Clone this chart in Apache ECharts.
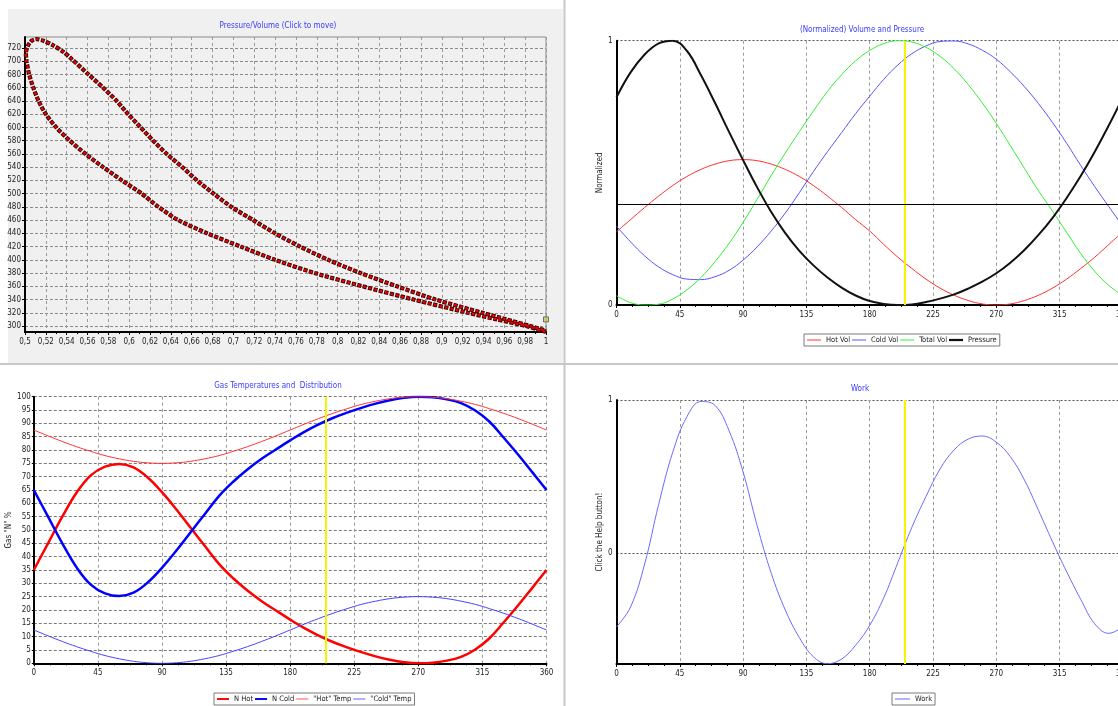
<!DOCTYPE html>
<html>
<head>
<meta charset="utf-8">
<script src="https://cdn.jsdelivr.net/npm/echarts@6/dist/echarts.min.js"></script>
<style>
  html, body { margin: 0; padding: 0; background: #ffffff; }
  #chart { width: 1118px; height: 706px; }
</style>
</head>
<body>
<div id="chart"></div>
<script>
// ---- Pressure / volume loop (volume ratio, pressure) ----
const pvVolume = [1.0, 0.981, 0.953, 0.925, 0.873, 0.824, 0.778, 0.740, 0.707, 0.675, 0.647, 0.628, 0.612,
  0.593, 0.575, 0.558, 0.543, 0.530, 0.520, 0.513, 0.508, 0.504, 0.5015, 0.5008, 0.503, 0.5064, 0.511,
  0.5176, 0.527, 0.537, 0.545, 0.561, 0.575, 0.588, 0.599, 0.611, 0.623, 0.636, 0.651, 0.665, 0.681,
  0.698, 0.719, 0.740, 0.764, 0.791, 0.822, 0.857, 0.894, 0.939, 0.962, 0.985, 1.0];
const pvPressure = [291, 300, 310, 320, 340, 360, 380, 400, 420, 440, 460, 480, 500,
  520, 540, 560, 580, 600, 620, 640, 660, 680, 700, 712, 724, 731, 733.5,
  731, 724, 714, 703, 680, 660, 640, 620, 600, 580, 560, 540, 520, 500,
  480, 460, 440, 420, 400, 380, 360, 340, 320, 310, 300, 293];
const pvMarker = [1.0, 310];
const pvPressureTicks = [300, 320, 340, 360, 380, 400, 420, 440, 460, 480, 500, 520, 540, 560, 580,
  600, 620, 640, 660, 680, 700, 720];

// ---- Crank angle samples (degrees) shared by the other three charts ----
const crankAngles = [0, 10, 20, 30, 40, 50, 60, 70, 80, 90, 100, 110, 120, 130, 140, 150, 160, 170, 180,
  190, 200, 210, 220, 230, 240, 250, 260, 270, 280, 290, 300, 310, 320, 330, 340, 350, 360];
const currentAngle = 205;

// (Normalized) Volume and Pressure
const hotVol = [0.277, 0.323, 0.369, 0.412, 0.452, 0.486, 0.513, 0.533, 0.546, 0.55, 0.546, 0.533, 0.513,
  0.486, 0.452, 0.412, 0.369, 0.323, 0.280, 0.229, 0.181, 0.138, 0.098, 0.064, 0.037, 0.017, 0.004,
  0.0, 0.004, 0.017, 0.037, 0.064, 0.098, 0.138, 0.181, 0.229, 0.277];
const coldVol = [0.298, 0.239, 0.186, 0.144, 0.115, 0.098, 0.096, 0.107, 0.131, 0.170, 0.220, 0.280, 0.348,
  0.425, 0.505, 0.580, 0.652, 0.724, 0.790, 0.854, 0.908, 0.951, 0.980, 0.997, 0.999, 0.988, 0.964,
  0.930, 0.882, 0.826, 0.762, 0.690, 0.612, 0.528, 0.448, 0.372, 0.298];
const totalVol = [0.035, 0.009, 0.0, 0.003, 0.023, 0.057, 0.104, 0.164, 0.233, 0.313, 0.40, 0.49, 0.575,
  0.656, 0.734, 0.808, 0.871, 0.924, 0.963, 0.989, 1.0, 0.995, 0.975, 0.941, 0.894, 0.834, 0.765,
  0.687, 0.603, 0.517, 0.432, 0.355, 0.275, 0.195, 0.127, 0.074, 0.035];
const pressure = [0.786, 0.88, 0.948, 0.99, 1.0, 0.962, 0.87, 0.765, 0.655, 0.548, 0.445, 0.352, 0.272,
  0.205, 0.15, 0.104, 0.066, 0.036, 0.015, 0.004, 0.0, 0.002, 0.011, 0.024, 0.04, 0.062, 0.088,
  0.12, 0.16, 0.208, 0.265, 0.33, 0.405, 0.488, 0.58, 0.68, 0.786];
const meanPressure = 0.378;

// Gas Temperatures and Distribution (%)
const nHot = [35, 45, 55, 64, 70.5, 73.8, 74.8, 73.5, 69.7, 64.2, 57.8, 50.9, 44.1, 37.3, 31.9, 27.3,
  23.3, 19.8, 16.4, 13.2, 10.4, 8, 6, 4.2, 2.6, 1.3, 0.4, 0, 0.2, 1, 2.4, 5.2, 9.4, 15.4, 21.7, 28.3, 35];
const nCold = [65, 55, 45, 36, 29.5, 26.2, 25.2, 26.5, 30.3, 35.8, 42.2, 49.1, 55.9, 62.7, 68.1, 72.7,
  76.7, 80.2, 83.6, 86.8, 89.6, 92, 94, 95.8, 97.4, 98.7, 99.6, 100, 99.8, 99, 97.6, 94.8, 90.6, 84.6,
  78.3, 71.7, 65];
const hotTemp = [87.5, 85.3, 83.2, 81.25, 79.5, 77.9, 76.7, 75.75, 75.2, 75, 75.2, 75.75, 76.7, 77.9,
  79.5, 81.25, 83.2, 85.3, 87.5, 89.7, 91.8, 93.75, 95.5, 97.1, 98.3, 99.25, 99.8, 100, 99.8, 99.25,
  98.3, 97.1, 95.5, 93.75, 91.8, 89.7, 87.5];
const coldTemp = [12.5, 10.3, 8.2, 6.25, 4.5, 2.9, 1.7, 0.75, 0.2, 0, 0.2, 0.75, 1.7, 2.9, 4.5, 6.25,
  8.2, 10.3, 12.5, 14.7, 16.8, 18.75, 20.5, 22.1, 23.3, 24.25, 24.8, 25, 24.8, 24.25, 23.3, 22.1,
  20.5, 18.75, 16.8, 14.7, 12.5];

// Work (normalized to its peak)
const work = [-0.48, -0.35, -0.07, 0.32, 0.66, 0.89, 0.99, 0.965, 0.8, 0.53, 0.18, -0.13, -0.37,
  -0.55, -0.675, -0.72, -0.69, -0.6, -0.47, -0.29, -0.06, 0.17, 0.37, 0.55, 0.674, 0.745, 0.765,
  0.725, 0.63, 0.478, 0.28, 0.075, -0.12, -0.3, -0.46, -0.522, -0.478];
const workMin = -0.722;

const FONT = "'Liberation Sans Narrow','DejaVu Sans Condensed','Liberation Sans',sans-serif";
const TITLE_BLUE = '#3b3bff';
const THIN_ICON = 'path://M0 0H20V1.4H0Z';
const THICK_ICON = 'path://M0 0H20V3.2H0Z';

const pairs = (xs, ys) => xs.map((x, i) => [x, ys[i]]);

function angleAxis(gridIndex) {
  return {
    type: 'value', gridIndex, min: 0, max: 360, interval: 45,
    axisLine: { show: true, onZero: false, lineStyle: { color: '#000', width: 2 } },
    axisTick: { show: true, length: 3, lineStyle: { color: '#000' } },
    minorTick: { show: true, splitNumber: 4, length: 2, lineStyle: { color: '#000' } },
    axisLabel: { fontSize: 8, color: '#222', margin: 6, fontFamily: FONT },
    splitLine: { show: true, lineStyle: { color: '#9a9a9a', type: [3, 3], width: 1 } }
  };
}

function cursorLine() {
  return {
    silent: true, symbol: 'none', animation: false,
    label: { show: false },
    lineStyle: { color: '#f5f500', width: 2, type: 'solid' },
    data: [{ xAxis: currentAngle }]
  };
}

function legendBox(names, left, top, textWidth, itemWidth) {
  return {
    data: names, left, top, orient: 'horizontal',
    selectedMode: false, borderColor: '#7a7a7a', borderWidth: 1, padding: [2, 3], itemGap: 2,
    itemWidth, itemHeight: 8,
    textStyle: { fontSize: 7.5, color: '#222', fontFamily: FONT, width: textWidth, overflow: 'none' }
  };
}

const lineSeries = (name, axisIdx, values, color, width, extra) => Object.assign({
  name, type: 'line', xAxisIndex: axisIdx, yAxisIndex: axisIdx, smooth: 0.4, symbol: 'none',
  data: pairs(crankAngles, values), color, lineStyle: { color, width }
}, extra || {});

const chart = echarts.init(document.getElementById('chart'), null, { renderer: 'canvas' });

chart.setOption({
  animation: false,
  textStyle: { fontFamily: FONT },
  graphic: [
    { type: 'rect', z: -10, silent: true, shape: { x: 8, y: 9, width: 555, height: 354 }, style: { fill: '#f0f0f0' } },
    { type: 'line', silent: true, shape: { x1: 564.5, y1: 0, x2: 564.5, y2: 706 }, style: { stroke: '#c8c8c8', lineWidth: 2 } },
    { type: 'line', silent: true, shape: { x1: 0, y1: 364, x2: 1118, y2: 364 }, style: { stroke: '#c8c8c8', lineWidth: 2 } },
    { type: 'text', silent: true, x: 278, y: 26, style: { text: 'Pressure/Volume (Click to move)', fill: TITLE_BLUE, font: '8px ' + FONT, align: 'center', verticalAlign: 'middle' } },
    { type: 'text', silent: true, x: 862, y: 30, style: { text: '(Normalized) Volume and Pressure', fill: TITLE_BLUE, font: '8px ' + FONT, align: 'center', verticalAlign: 'middle' } },
    { type: 'text', silent: true, x: 278, y: 386, style: { text: 'Gas Temperatures and  Distribution', fill: TITLE_BLUE, font: '8px ' + FONT, align: 'center', verticalAlign: 'middle' } },
    { type: 'text', silent: true, x: 860, y: 389, style: { text: 'Work', fill: TITLE_BLUE, font: '8px ' + FONT, align: 'center', verticalAlign: 'middle' } }
  ],
  grid: [
    { left: 25, top: 37, width: 521, height: 295, outerBoundsMode: 'none', show: true, backgroundColor: '#f0f0f0', borderColor: '#8a8a8a', borderWidth: 1 },
    { left: 616.5, top: 40.7, width: 506.4, height: 264.3, outerBoundsMode: 'none' },
    { left: 33.8, top: 396.7, width: 512.7, height: 266.6, outerBoundsMode: 'none' },
    { left: 616.5, top: 400, width: 506.4, height: 264, outerBoundsMode: 'none' }
  ],
  xAxis: [
    {
      type: 'value', gridIndex: 0, min: 0.5, max: 1, interval: 0.02,
      axisLine: { show: true, onZero: false, lineStyle: { color: '#000', width: 2 } },
      axisTick: { show: true, length: 3, lineStyle: { color: '#000' } },
      minorTick: { show: true, splitNumber: 2, length: 2, lineStyle: { color: '#000' } },
      axisLabel: {
        fontSize: 8, color: '#222', margin: 6, fontFamily: FONT,
        formatter: v => String(Math.round(v * 100) / 100).replace('.', ',')
      },
      splitLine: { show: true, lineStyle: { color: '#9a9a9a', type: [3, 3] } }
    },
    angleAxis(1),
    angleAxis(2),
    angleAxis(3)
  ],
  yAxis: [
    {
      type: 'value', gridIndex: 0, min: 291, max: 736.6,
      axisLine: { show: true, lineStyle: { color: '#000', width: 2 } },
      axisTick: { show: true, length: 3, customValues: pvPressureTicks, lineStyle: { color: '#000' } },
      axisLabel: { fontSize: 8, color: '#222', margin: 4, customValues: pvPressureTicks, fontFamily: FONT },
      splitLine: { show: true, lineStyle: { color: '#8a8a8a', type: [3, 2] } }
    },
    {
      type: 'value', gridIndex: 1, min: 0, max: 1, interval: 1,
      name: 'Normalized', nameLocation: 'middle', nameGap: 12,
      nameTextStyle: { fontSize: 8, color: '#222', fontFamily: FONT },
      axisLine: { show: true, lineStyle: { color: '#000', width: 2 } },
      axisTick: { show: false },
      axisLabel: { fontSize: 8, color: '#222', margin: 4, fontFamily: FONT },
      splitLine: { show: true, lineStyle: { color: '#555', type: [2, 2] } }
    },
    {
      type: 'value', gridIndex: 2, min: 0, max: 100, interval: 5,
      name: 'Gas "N" %', nameLocation: 'middle', nameGap: 21,
      nameTextStyle: { fontSize: 8, color: '#222', fontFamily: FONT },
      axisLine: { show: true, lineStyle: { color: '#000', width: 2 } },
      axisTick: { show: true, length: 2, lineStyle: { color: '#000' } },
      axisLabel: { fontSize: 8, color: '#222', margin: 3, fontFamily: FONT },
      splitLine: { show: true, lineStyle: { color: '#7a7a7a', type: [3, 2] } }
    },
    {
      type: 'value', gridIndex: 3, min: workMin, max: 1,
      name: 'Click the Help button!', nameLocation: 'middle', nameGap: 12,
      nameTextStyle: { fontSize: 8, color: '#222', fontFamily: FONT },
      axisLine: { show: true, onZero: false, lineStyle: { color: '#000', width: 2 } },
      axisTick: { show: false, customValues: [0, 1] },
      axisLabel: { fontSize: 8, color: '#222', margin: 4, customValues: [0, 1], fontFamily: FONT },
      splitLine: { show: true, lineStyle: { color: '#555', type: [2, 2] } }
    }
  ],
  legend: [
    legendBox([
      { name: 'Hot Vol', icon: THIN_ICON }, { name: 'Cold Vol', icon: THIN_ICON },
      { name: 'Total Vol', icon: THIN_ICON }, { name: 'Pressure', icon: THICK_ICON }
    ], 804, 334, 26, 14),
    legendBox([
      { name: 'N Hot', icon: THICK_ICON }, { name: 'N Cold', icon: THICK_ICON },
      { name: '"Hot" Temp', icon: THIN_ICON }, { name: '"Cold" Temp', icon: THIN_ICON }
    ], 214, 693, 31, 12),
    legendBox([{ name: 'Work', icon: THIN_ICON }], 892, 693, 16, 15)
  ],
  series: [
    // P-V loop: chain of dark-edged red squares
    {
      name: 'PV', type: 'line', xAxisIndex: 0, yAxisIndex: 0, silent: true,
      data: pairs(pvVolume, pvPressure), smooth: 0.25, symbol: 'none', z: 3,
      lineStyle: { color: '#3a0000', width: 4.2, type: [4.2, 1.4] }
    },
    {
      name: 'PV core', type: 'line', xAxisIndex: 0, yAxisIndex: 0, silent: true,
      data: pairs(pvVolume, pvPressure), smooth: 0.25, symbol: 'none', z: 4,
      lineStyle: { color: '#ee0000', width: 2.4, type: [2.6, 3.0], dashOffset: 4.8 }
    },
    {
      name: 'PV now', type: 'scatter', xAxisIndex: 0, yAxisIndex: 0, silent: true, z: 5,
      data: [pvMarker], symbol: 'rect', symbolSize: 5,
      itemStyle: { color: '#c8c860', borderColor: '#555', borderWidth: 1 }
    },

    // (Normalized) Volume and Pressure
    lineSeries('Hot Vol', 1, hotVol, '#ff3030', 1, { markLine: cursorLine() }),
    lineSeries('Cold Vol', 1, coldVol, '#5555ff', 1),
    lineSeries('Total Vol', 1, totalVol, '#33ee33', 1),
    lineSeries('Pressure', 1, pressure, '#111111', 2, {
      markLine: {
        silent: true, symbol: 'none', animation: false, label: { show: false },
        lineStyle: { color: '#000', width: 1, type: 'solid' },
        data: [{ yAxis: meanPressure }]
      }
    }),

    // Gas Temperatures and Distribution
    lineSeries('N Hot', 2, nHot, '#ff0000', 2.5, { markLine: cursorLine() }),
    lineSeries('N Cold', 2, nCold, '#0000ff', 2.5),
    lineSeries('"Hot" Temp', 2, hotTemp, '#ff3333', 1),
    lineSeries('"Cold" Temp', 2, coldTemp, '#4444ff', 1),

    // Work
    lineSeries('Work', 3, work, '#6b6bff', 1, { markLine: cursorLine() })
  ]
});
</script>
</body>
</html>
